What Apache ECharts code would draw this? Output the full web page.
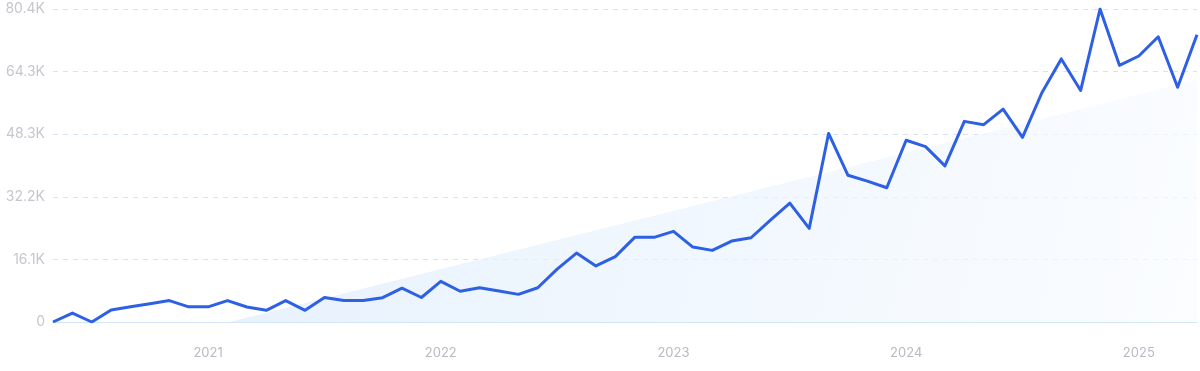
<!DOCTYPE html>
<html>
<head>
<meta charset="utf-8">
<script src="https://cdn.jsdelivr.net/npm/echarts@6/dist/echarts.min.js"></script>
<style>
html,body{margin:0;padding:0;background:#fff;}
#chart{width:1200px;height:371px;}
</style>
</head>
<body>
<div id="chart"></div>
<script>
// Monthly categories May 2020 – Apr 2025
const months = [
  "2020-05","2020-06","2020-07","2020-08","2020-09","2020-10","2020-11","2020-12",
  "2021-01","2021-02","2021-03","2021-04","2021-05","2021-06","2021-07","2021-08","2021-09","2021-10","2021-11","2021-12",
  "2022-01","2022-02","2022-03","2022-04","2022-05","2022-06","2022-07","2022-08","2022-09","2022-10","2022-11","2022-12",
  "2023-01","2023-02","2023-03","2023-04","2023-05","2023-06","2023-07","2023-08","2023-09","2023-10","2023-11","2023-12",
  "2024-01","2024-02","2024-03","2024-04","2024-05","2024-06","2024-07","2024-08","2024-09","2024-10","2024-11","2024-12",
  "2025-01","2025-02","2025-03","2025-04"
];
const searches = [
  0, 2300, 0, 3100, 3900, 4700, 5500, 3900,
  3900, 5500, 3850, 3000, 5500, 3000, 6300, 5500, 5500, 6250, 8700, 6300,
  10450, 7900, 8800, 7950, 7100, 8800, 13600, 17700, 14400, 16800, 21750, 21750,
  23300, 19250, 18400, 20800, 21650, 26200, 30550, 24050, 48450, 37700, 36200, 34500,
  46700, 45050, 40100, 51550, 50700, 54700, 47450, 58900, 67600, 59500, 80425, 65950,
  68350, 73300, 60300, 73800
];
// Trend band endpoints: [month index, value]
const trendPoints = [[9.1, 0], [59, 62200]];
const yTickLabels = ["0", "16.1K", "32.2K", "48.3K", "64.3K", "80.4K"];
const yMax = 80425;
const yStep = 16085;

const chart = echarts.init(document.getElementById('chart'), null, {renderer: 'canvas'});
chart.setOption({
  animation: false,
  grid: {left: 53, right: 3, top: 9, bottom: 49, containLabel: false},
  xAxis: [{
    type: 'category',
    data: months,
    boundaryGap: false,
    axisLine: {show: true, lineStyle: {color: '#d0e6fb', width: 1}},
    axisTick: {show: false},
    splitLine: {show: false},
    axisLabel: {
      interval: function (i, v) { return v.slice(5) === '01'; },
      formatter: function (v) { return v.slice(0, 4); },
      color: '#b9b9c3',
      fontFamily: 'Inter',
      fontSize: 13,
      margin: 25
    }
  }, {
    type: 'value',
    min: 0,
    max: months.length - 1,
    show: false
  }],
  yAxis: {
    type: 'value',
    min: 0,
    max: yMax,
    interval: yStep,
    axisLine: {show: false},
    axisTick: {show: false},
    axisLabel: {
      formatter: function (v, i) { return yTickLabels[i]; },
      color: '#c6c6cf',
      fontFamily: 'Inter',
      fontSize: 14,
      margin: 8
    },
    splitLine: {
      show: true,
      lineStyle: {color: '#d4e4f8', type: [5, 5], width: 1}
    }
  },
  series: [{
    type: 'line',
    xAxisIndex: 1,
    data: trendPoints,
    symbol: 'none',
    lineStyle: {width: 0},
    areaStyle: {
      origin: 'start',
      color: new echarts.graphic.LinearGradient(0, 0, 1, 1, [
        {offset: 0, color: '#dcebfb'},
        {offset: 1, color: '#f8fbff'}
      ])
    },
    silent: true,
    z: 1
  }, {
    type: 'line',
    data: searches,
    symbol: 'none',
    lineStyle: {color: '#2e60e4', width: 3, join: 'round'},
    z: 3
  }]
});
</script>
</body>
</html>
